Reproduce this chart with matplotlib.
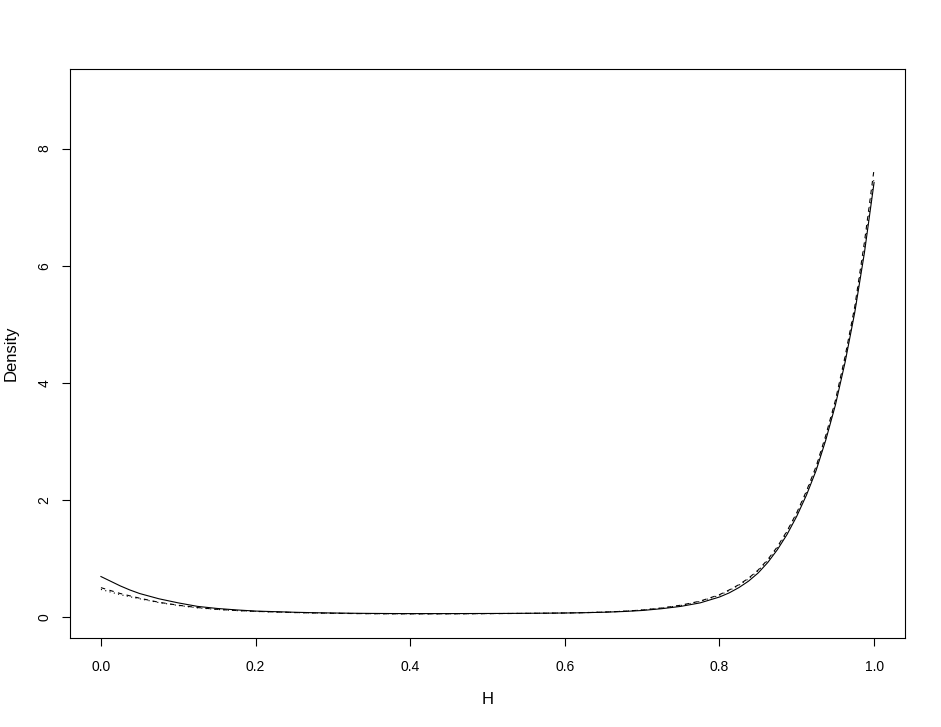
import matplotlib
matplotlib.use("Agg")
import matplotlib.pyplot as plt

plt.rcParams['font.family'] = ['Liberation Sans', 'DejaVu Sans']

H = [0.000, 0.0125, 0.025, 0.0375, 0.050, 0.075, 0.100, 0.125, 0.150, 0.175, 0.200, 0.225,
     0.250, 0.275, 0.300, 0.325, 0.350, 0.375, 0.400, 0.425, 0.450, 0.475,
     0.500, 0.525, 0.550, 0.575, 0.600, 0.625, 0.650, 0.675, 0.700, 0.725,
     0.750, 0.775, 0.800, 0.8125, 0.825, 0.8375, 0.850, 0.8625, 0.875, 0.8875,
     0.900, 0.9125, 0.925, 0.9375, 0.950, 0.9625, 0.975, 0.9875, 1.000]

density_solid = [0.69, 0.61, 0.53, 0.46, 0.40, 0.31, 0.24, 0.18, 0.145, 0.12, 0.10, 0.09,
                 0.08, 0.072, 0.067, 0.063, 0.060, 0.058, 0.057, 0.057, 0.057, 0.058,
                 0.059, 0.060, 0.062, 0.064, 0.067, 0.072, 0.080, 0.092, 0.11, 0.14,
                 0.18, 0.24, 0.34, 0.41, 0.50, 0.61, 0.75, 0.93, 1.15, 1.41,
                 1.72, 2.08, 2.50, 3.02, 3.62, 4.35, 5.20, 6.22, 7.42]

density_dashed = [0.50, 0.45, 0.40, 0.36, 0.32, 0.25, 0.20, 0.16, 0.13, 0.11, 0.095, 0.085,
                  0.075, 0.068, 0.062, 0.058, 0.055, 0.053, 0.052, 0.052, 0.053, 0.054,
                  0.056, 0.058, 0.060, 0.063, 0.067, 0.073, 0.082, 0.096, 0.118, 0.152,
                  0.20, 0.27, 0.38, 0.46, 0.55, 0.66, 0.80, 0.98, 1.20, 1.47,
                  1.78, 2.15, 2.57, 3.10, 3.70, 4.45, 5.30, 6.40, 7.65]

density_dotted = [0.47, 0.425, 0.38, 0.345, 0.31, 0.245, 0.195, 0.155, 0.128, 0.108, 0.094, 0.084,
                  0.075, 0.068, 0.063, 0.059, 0.056, 0.054, 0.053, 0.053, 0.054, 0.055,
                  0.057, 0.059, 0.061, 0.064, 0.068, 0.074, 0.083, 0.097, 0.118, 0.150,
                  0.195, 0.265, 0.37, 0.45, 0.54, 0.65, 0.79, 0.96, 1.18, 1.45,
                  1.76, 2.12, 2.54, 3.06, 3.66, 4.40, 5.25, 6.30, 7.50]

xticks = [0.0, 0.2, 0.4, 0.6, 0.8, 1.0]
xtick_labels = ["0.0", "0.2", "0.4", "0.6", "0.8", "1.0"]
yticks = [0, 2, 4, 6, 8]
ytick_labels = ["0", "2", "4", "6", "8"]

W, Hpx = 941, 727
fig = plt.figure(figsize=(W / 100, Hpx / 100), dpi=100)
ax = fig.add_axes([70 / W, (Hpx - 638) / Hpx, (905 - 70) / W, (638 - 69) / Hpx])

lw = 0.8
ax.plot(H, density_solid, color='black', lw=lw, linestyle='-')
ax.plot(H, density_dashed, color='black', lw=lw, linestyle=(0, (4, 4)))
ax.plot(H, density_dotted, color='black', lw=lw, linestyle=(0, (1, 3)))

ax.set_xlim(-0.04, 1.04)
ax.set_ylim(-0.36, 9.36)

ax.set_xticks(xticks)
ax.set_xticklabels(xtick_labels)
ax.set_yticks(yticks)
ax.set_yticklabels(ytick_labels, rotation=90, va='center')

for s in ax.spines.values():
    s.set_linewidth(0.8)
ax.tick_params(direction='out', length=6.0, width=0.8, labelsize=10)
ax.tick_params(axis='x', pad=9.5)
ax.tick_params(axis='y', pad=7.5)

fig.text(487.5 / W, 1 - 700 / Hpx, "H", ha='center', va='center', fontsize=12)
fig.text(11 / W, 1 - 353.5 / Hpx, "Density", ha='center', va='center',
         rotation=90, fontsize=12)

fig.savefig("out.png", dpi=100)
